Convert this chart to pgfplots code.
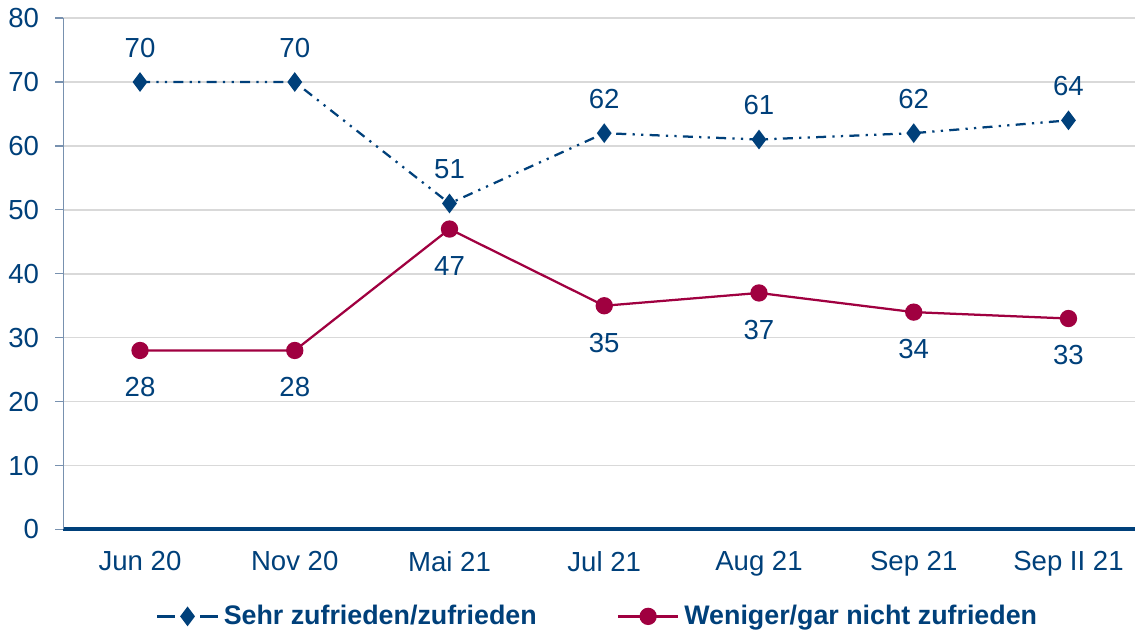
\documentclass[border=0pt]{standalone}
\usepackage{fontspec}
\setmainfont{Liberation Sans}
\usepackage{pgfplots}
\pgfplotsset{compat=1.18}
\definecolor{cblue}{RGB}{0,64,122}
\definecolor{cred}{RGB}{160,0,64}
\definecolor{cgrid}{RGB}{217,217,217}
\definecolor{caxis}{RGB}{120,145,175}
\begin{document}
\begin{tikzpicture}
\begin{axis}[
  scale only axis,
  width=427.5pt, height=204pt,
  xmin=-0.495, xmax=6.43,
  ymin=0, ymax=80,
  ytick={0,10,...,80},
  xtick={0,...,6},
  xticklabels={Jun 20,Nov 20,Mai 21,Jul 21,Aug 21,Sep 21,Sep II 21},
  axis lines*=left,
  x axis line style={draw=cblue, line width=1.6pt},
  y axis line style={draw=caxis, line width=0.5pt},
  ymajorgrids,
  grid style={cgrid, line width=0.6pt},
  tick align=outside,
  major tick length=3.2pt,
  ytick style={caxis, line width=0.5pt},
  xtick style={draw=none},
  ticklabel style={text=cblue, font=\fontsize{11}{13}\selectfont},
  /pgf/number format/assume math mode=true,
  xticklabel style={yshift=-2pt},
  yticklabel style={xshift=-3pt},
  legend style={at={(0.5,-0.17)}, anchor=center, draw=none, legend columns=2,
    font=\bfseries\fontsize{10.7}{12}\selectfont, text=cblue,
    /tikz/every even column/.append style={column sep=30pt}},
  legend image code/.code={
    \draw[#1] (0pt,0pt) -- (24pt,0pt);
    \draw[#1, mark repeat=2, mark phase=2] plot coordinates {(0pt,0pt) (12pt,0pt) (24pt,0pt)};
  },
  nodes near coords,
  every node near coord/.append style={font=\fontsize{11}{13}\selectfont},
  clip=false,
]
\addplot[cblue, line width=0.9pt, dash pattern=on 4pt off 2.5pt on 0.9pt off 2.5pt on 0.9pt off 2.5pt,
  mark=diamond*, mark size=3.2pt, mark options={solid, fill=cblue, draw=cblue},
  every node near coord/.append style={text=cblue, anchor=south, yshift=6pt},
  legend image code/.code={
    \draw[cblue, line width=0.9pt, solid] (0pt,0pt) -- (7pt,0pt);
    \draw[cblue, line width=0.9pt, solid] (17pt,0pt) -- (24pt,0pt);
    \path[cblue, fill=cblue] plot[mark=diamond*, mark size=3.2pt] coordinates {(12pt,0pt)};
  }]
  coordinates {(0,70) (1,70) (2,51) (3,62) (4,61) (5,62) (6,64)};
\addlegendentry{Sehr zufrieden/zufrieden}
\addplot[cred, line width=0.9pt, solid,
  mark=*, mark size=3pt, mark options={fill=cred, draw=cred},
  every node near coord/.append style={text=cblue, anchor=north, yshift=-7pt}]
  coordinates {(0,28) (1,28) (2,47) (3,35) (4,37) (5,34) (6,33)};
\addlegendentry{Weniger/gar nicht zufrieden}
\end{axis}
\end{tikzpicture}
\end{document}
